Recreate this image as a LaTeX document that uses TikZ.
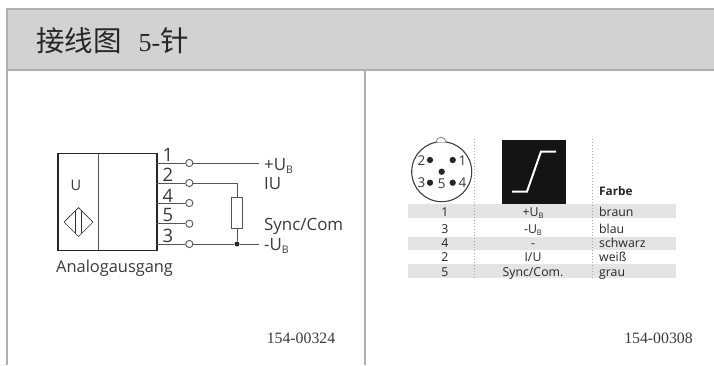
\documentclass[tikz,border=0pt]{standalone}
\usepackage{fontspec}
\setmainfont{Open Sans}
\newfontfamily\cjk{Noto Sans CJK SC}
\newfontfamily\serifnum{Liberation Serif}
\usetikzlibrary{calc}
\definecolor{hdr}{HTML}{D1D2D4}
\definecolor{rule}{HTML}{AEAFB2}
\definecolor{band}{HTML}{E4E4E4}
\definecolor{wire}{HTML}{555555}
\definecolor{txt}{HTML}{3A3A3A}
\newcommand{\subB}{\raisebox{-0.22em}{\scalebox{0.62}{B}}}
\tikzset{
 wireline/.style={draw=wire,line width=1pt},
 term/.style={circle,draw=wire,fill=white,line width=0.9pt,inner sep=0pt,minimum size=7.2pt},
 lbl/.style={text=txt,inner sep=0pt,anchor=base west,font=\fontsize{16.9}{16.9}\selectfont},
 pin/.style={text=txt,inner sep=0pt,font=\fontsize{18.5}{18.5}\selectfont},
 tbl/.style={text=black!85,inner sep=0pt,anchor=base,font=\fontsize{12.3}{12.3}\selectfont},
 tblw/.style={tbl,anchor=base west},
 code/.style={text=txt,inner sep=0pt,font=\serifnum\fontsize{15.8}{16}\selectfont},
 pn/.style={text=txt,inner sep=0pt,font=\fontsize{13.5}{13.5}\selectfont},
 contact/.style={circle,fill=black!85,inner sep=0pt,minimum size=6.3pt},
 dots/.style={draw=gray!70,line width=1pt,dotted}
}
\begin{document}
\begin{tikzpicture}[x=1pt,y=-1pt]
\useasboundingbox (0,0) rectangle (714,365);
% header
\fill[white] (0,0) rectangle (714,365);
\fill[hdr] (7,9) rectangle (714,70);
\draw[rule,line width=1.4pt] (714,9) -- (7,9) -- (7,365);
\draw[rule,line width=1.4pt] (7,70) -- (714,70);
\draw[rule,line width=1.4pt] (365,70) -- (365,365);
\node[anchor=west,inner sep=0pt,text=black!85,font=\fontsize{28.5}{28.5}\selectfont] (title) at (36,41) {{\cjk 接线图}\hspace{17pt}{\serifnum\fontsize{26}{26}\selectfont 5-}{\cjk 针}};
% sensor
\node[draw=black!85,line width=1.4pt,minimum width=99pt,minimum height=97pt,inner sep=0pt,anchor=north west] (box) at (57.3,152.7) {};
\coordinate (divT) at (98,152.7);
\coordinate (divB) at (98,250);
\draw[wire,line width=1pt] (divT) -- (divB);
\node[text=txt,inner sep=0pt,font=\fontsize{14.5}{14.5}\selectfont] (u) at (76,185) {U};
\node[draw=black!80,line width=0.7pt,minimum size=20.5pt,inner sep=0pt,rotate=45] (diam) at (78.5,222) {};
\coordinate (da) at (75.7,211); \coordinate (db) at (75.7,233);
\coordinate (dc) at (81.3,211); \coordinate (dd) at (81.3,233);
\draw[black!80,line width=0.7pt] (da) -- (db) (dc) -- (dd);
% pins
\foreach \n/\y in {1/163,2/183,4/203,5/223.7,3/244}{
  \coordinate (s\n) at (156,\y);
  \node[term] (t\n) at (189.3,\y) {};
  \draw[wireline] (s\n) -- (t\n);
}
\node[pin] (p1) at (168,154.5) {1};
\node[pin] (p2) at (168,175) {2};
\node[pin] (p4) at (168,195.5) {4};
\node[pin] (p5) at (168,215) {5};
\node[pin] (p3) at (168,235.5) {3};
\coordinate (e1) at (258.7,163);
\coordinate (e3) at (258.7,244);
\coordinate (k) at (237,183);
\node[draw=wire,fill=white,line width=1pt,minimum width=11.5pt,minimum height=30.5pt,inner sep=0pt] (r) at (237,213) {};
\node[circle,fill=black!85,inner sep=0pt,minimum size=5pt] (j) at (237,244) {};
\draw[wireline] (t1) -- (e1);
\draw[wireline] (t3) -- (j) -- (e3);
\draw[wireline] (t2) -- (k) -- (r);
\draw[wireline] (r) -- (j);
\node[lbl] (l1) at (264,170) {+U\subB};
\node[lbl] (l2) at (264,189) {IU};
\node[lbl] (l3) at (264,230.5) {Sync/Com};
\node[lbl] (l4) at (264,250) {-U\subB};
\node[text=txt,inner sep=0pt,anchor=west,font=\fontsize{16.4}{16.4}\selectfont] (ana) at (56,268.5) {Analogausgang};
\node[code] (c1) at (301,338.5) {154-00324};
\node[code] (c2) at (658.5,338.5) {154-00308};
% table bands
\fill[band] (408,204) rectangle (676,218);
\fill[band] (408,236.7) rectangle (676,250);
\fill[band] (408,264.3) rectangle (676,277.7);
% dotted
\coordinate (d1t) at (474,139); \coordinate (d1b) at (474,278);
\coordinate (d2t) at (592.7,139); \coordinate (d2b) at (592.7,278);
\draw[dots] (d1t) -- (d1b);
\draw[dots] (d2t) -- (d2b);
% connector face
\node[circle,draw=black!75,line width=1.1pt,minimum size=60pt,inner sep=0pt] (face) at (441.7,171.7) {};
\draw[black!60,line width=0.6pt,fill=white] (436,142.2) arc[start angle=180,end angle=360,radius=5];
\node[contact] (c_2) at (430,160) {};
\node[contact] (c_1) at (452.7,160) {};
\node[contact] (c_m) at (441.7,171.7) {};
\node[contact] (c_3) at (430,182.7) {};
\node[contact] (c_4) at (452.7,182.7) {};
\node[pn] at (421.5,160.5) {2};
\node[pn] at (462.5,160.5) {1};
\node[pn] at (421.5,183) {3};
\node[pn] at (441.7,184) {5};
\node[pn] at (462.5,183) {4};
% black square
\node[fill=black!92,minimum width=63.7pt,minimum height=64pt,inner sep=0pt,anchor=north west] (sq) at (502,139.3) {};
\coordinate (a1) at (512,191.5); \coordinate (a2) at (527,191.5); \coordinate (a3) at (541,151.5); \coordinate (a4) at (556,151.5);
\draw[white,line width=2pt] (a1) -- (a2) -- (a3) -- (a4);
% table
\node[tblw,font=\bfseries\fontsize{11.8}{12}\selectfont] (farbe) at (599,195.5) {Farbe};
\foreach \a/\b/\c/\y in {1/{+U\subB}/braun/216,3/{-U\subB}/blau/233,4/{-}/schwarz/247.5,2/{I/U}/wei\ss/261.5,5/{Sync/Com.}/grau/276}{
  \node[tbl] at (445,\y) {\a};
  \node[tbl] at (533,\y) {\b};
  \node[tblw] at (599,\y) {\c};
}
\end{tikzpicture}
\end{document}
